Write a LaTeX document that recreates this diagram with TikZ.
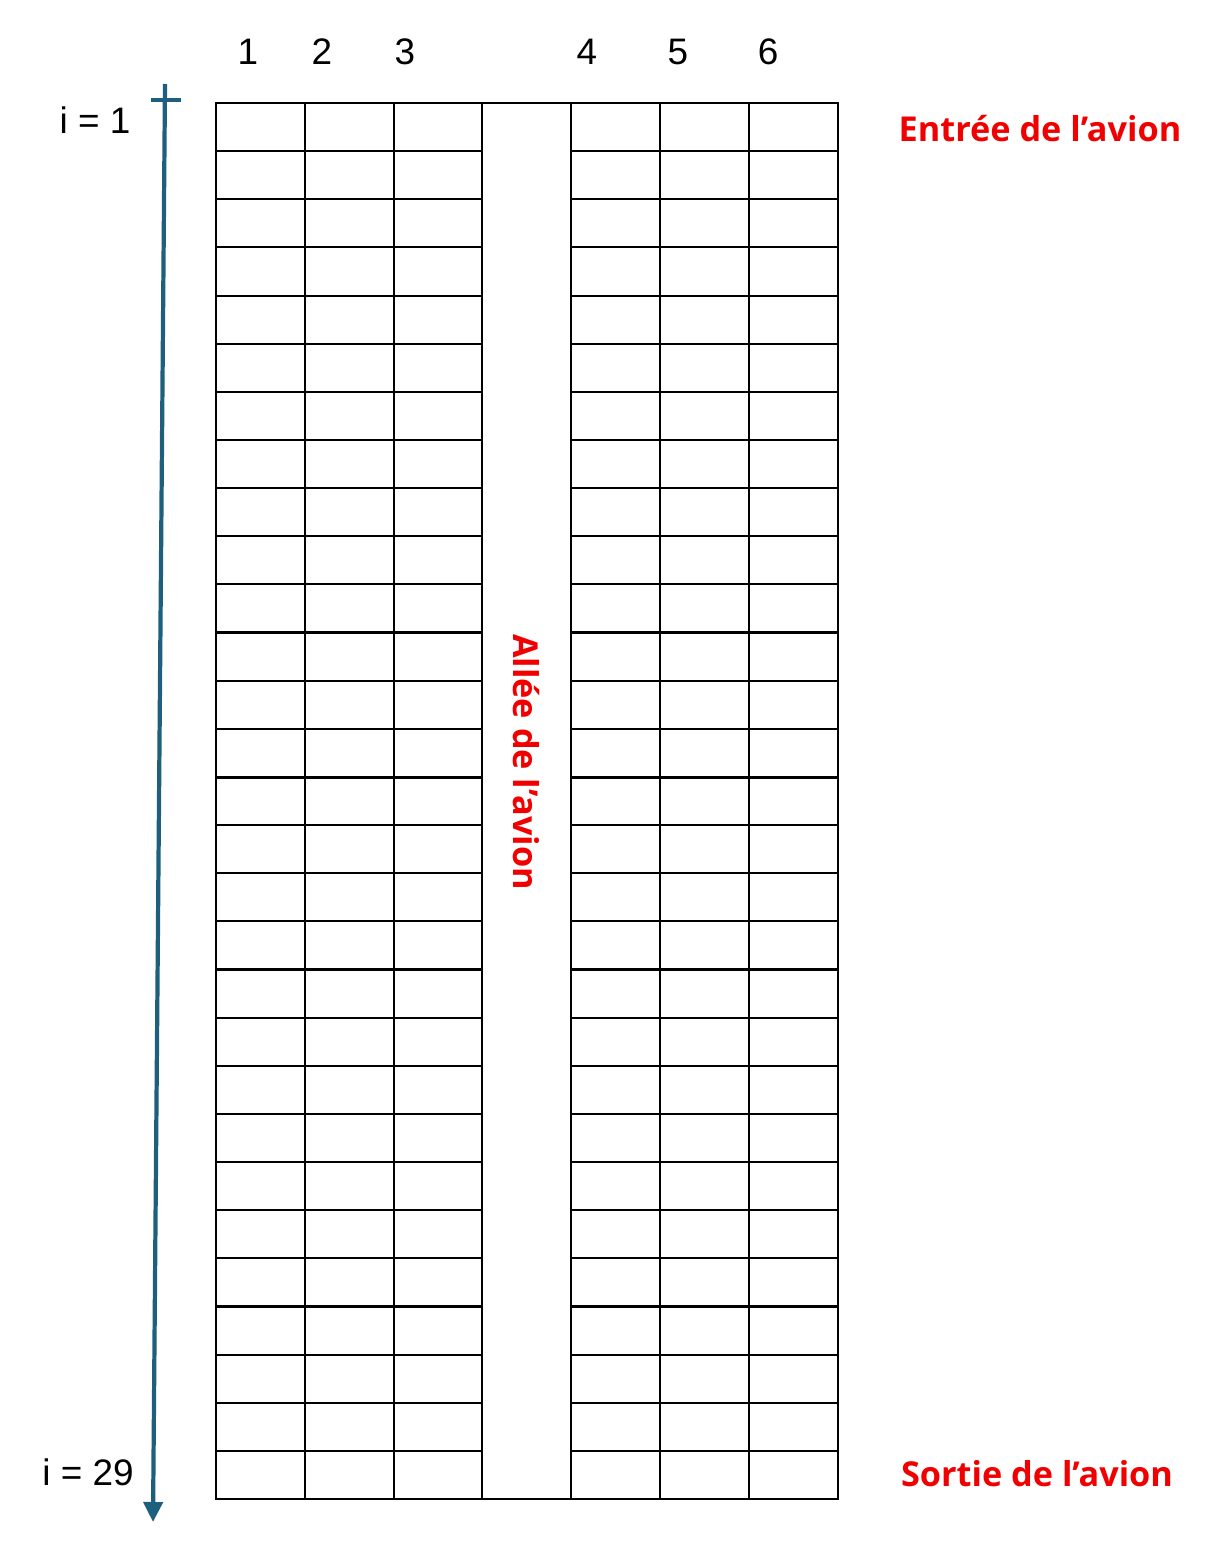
\documentclass[tikz,border=0pt]{standalone}
\usepackage{fontspec}
\setmainfont{Liberation Sans}
\newfontfamily\redfont{Open Sans}
\usetikzlibrary{arrows.meta,positioning}
\definecolor{axisblue}{HTML}{1F5F7E}
\definecolor{labelred}{HTML}{F00000}

\begin{document}
\begin{tikzpicture}[x=0.02cm,y=-0.02cm,
  seatline/.style={line width=1.2pt,line cap=rect},
  numlabel/.style={font=\fontsize{21}{25}\selectfont,inner sep=0pt},
  redlabel/.style={font=\redfont\bfseries\fontsize{19.5}{24}\selectfont,
    text=labelred,inner sep=0pt},
  rowaxis/.style={axisblue,line width=2.4pt,
    -{Triangle[length=0.4cm,width=0.38cm]}}
]
  \useasboundingbox (0,0) rectangle (1224,1548);

  % seats
  \draw[seatline] (216,103) rectangle (838,1499);
  \foreach \x in {305,394,482,571,660,749}
    \draw[seatline] (\x,103) -- (\x,1499);
  \foreach \r in {1,...,28} {
    \draw[seatline] (216,103+\r*48.138) -- (482,103+\r*48.138);
    \draw[seatline] (571,103+\r*48.138) -- (838,103+\r*48.138);
  }
  \draw[line width=1.7pt] (216,777) -- (482,777);
  \draw[line width=1.7pt] (571,777) -- (838,777);

  % column numbers
  \foreach \n/\x in {1/248,2/322,3/405,4/587,5/678,6/768}
    \node[numlabel] (col\n) at (\x,52) {\n};

  % row axis
  \coordinate (axistop) at (165,84);
  \coordinate (axisend) at (153,1522);
  \draw[rowaxis] (axistop) -- (axisend);
  \draw[axisblue,line width=2.4pt] (151,100) -- (181,100);
  \node[numlabel] (firstrow) at (95,120) {i = 1};
  \node[numlabel] (lastrow) at (88,1472) {i = 29};

  % aisle, entry, exit
  \node[redlabel,rotate=-90] (aisle) at (526,762) {Allée de l’avion};
  \node[redlabel] (entry) at (1040,129) {Entrée de l’avion};
  \node[redlabel] (exit) at (1037,1474) {Sortie de l’avion};
\end{tikzpicture}
\end{document}
